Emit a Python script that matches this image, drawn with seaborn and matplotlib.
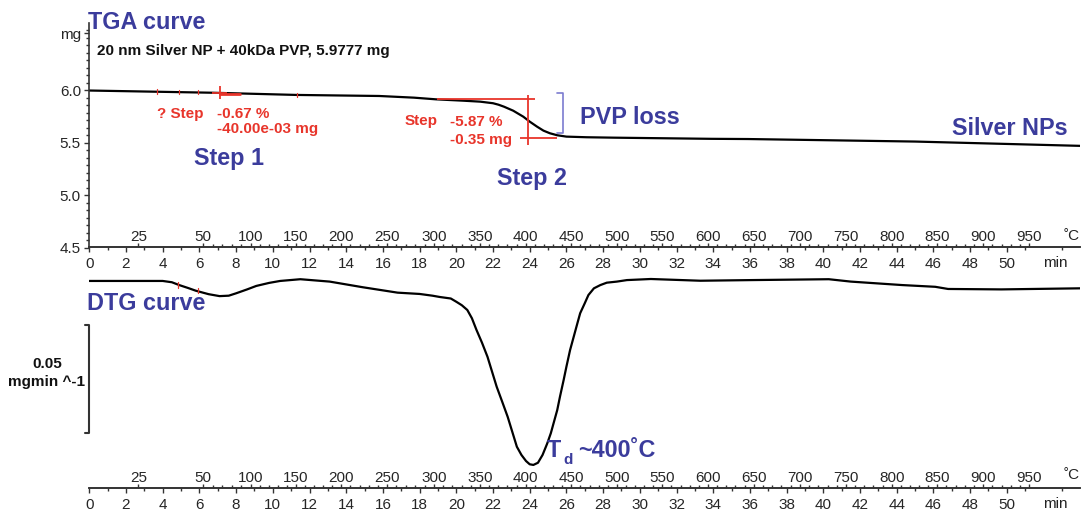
import numpy as np
import pandas as pd
import matplotlib
matplotlib.use("Agg")
import matplotlib.pyplot as plt
import seaborn as sns
from matplotlib.ticker import FixedLocator

# ---------------- data ----------------
tga_time = [0.0, 6.7, 11.3, 15.8, 17.7, 18.9, 20.4, 21.3, 22.0, 22.3, 22.6, 23.1, 23.65,
            24.0, 24.4, 24.75, 25.1, 25.5, 26.0, 27.1, 28.6, 33.9, 35.9, 45.0, 54.0]
tga_mass = [5.995, 5.974, 5.953, 5.943, 5.927, 5.911, 5.898, 5.889, 5.874, 5.860, 5.841, 5.803, 5.746,
            5.699, 5.651, 5.613, 5.588, 5.569, 5.556, 5.550, 5.546, 5.535, 5.533, 5.509, 5.468]

dtg_time = [0.0, 4.0, 4.5, 4.9, 5.4, 5.8, 6.5, 7.1, 7.6, 8.0, 8.6, 9.1, 9.8, 10.4, 11.5, 13.1,
            14.9, 16.8, 18.0, 18.7, 19.1, 19.7, 20.0, 20.3, 20.6, 20.85, 21.1, 21.4, 21.7, 21.95,
            22.2, 22.5, 22.8, 23.05, 23.3, 23.55, 23.8, 24.0, 24.2, 24.45, 24.7, 24.95, 25.15,
            25.3, 25.5, 25.65, 25.85, 26.0, 26.2, 26.4, 26.6, 26.75, 27.0, 27.2, 27.5, 27.85,
            28.2, 28.75, 29.3, 30.6, 33.3, 36.1, 40.3, 41.5, 44.3, 46.1, 46.8, 49.7, 54.0]
dtg_rate = [-0.0009, -0.0009, -0.0015, -0.0028, -0.0042, -0.0054, -0.0070, -0.0079, -0.0077, -0.0066,
            -0.0048, -0.0032, -0.0018, -0.0009, -0.0001, -0.0012,
            -0.0038, -0.0063, -0.0069, -0.0077, -0.0083, -0.0090, -0.0105, -0.0121, -0.0143, -0.0181,
            -0.0235, -0.0294, -0.0359, -0.0428,
            -0.0497, -0.0566, -0.0636, -0.0705, -0.0774, -0.0812, -0.0840, -0.0855, -0.0858, -0.0848,
            -0.0812, -0.0760, -0.0712,
            -0.0666, -0.0605, -0.0543, -0.0466, -0.0405, -0.0328, -0.0266, -0.0204, -0.0158, -0.0112,
            -0.0074, -0.0043, -0.0028,
            -0.0017, -0.0012, -0.0005, 0.0, -0.0008, -0.0005, -0.0001, -0.0012, -0.0028, -0.0036,
            -0.0046, -0.0048, -0.0043]

minute_ticks = list(range(0, 51, 2))
temp_labels = [25, 50, 100, 150, 200, 250, 300, 350, 400, 450,
               500, 550, 600, 650, 700, 750, 800, 850, 900, 950]
temp_pos_min = [2.67, 6.21, 8.80, 11.25, 13.73, 16.22, 18.78, 21.29, 23.79, 26.26,
                28.76, 31.22, 33.72, 36.21, 38.73, 41.23, 43.73, 46.20, 48.72, 51.20]
mass_ticks = [4.5, 5.0, 5.5, 6.0]

# step annotations
step1_time, step1_mass = 7.12, 5.974
step1_marks_t = [3.7, 4.9, 5.9, 11.3]
step1_marks_m = [5.985, 5.982, 5.979, 5.955]
step2_start, step2_time, step2_endt = 18.95, 23.91, 25.49
step2_onset, step2_end = 5.912, 5.547
bracket_t, bracket_top, bracket_bot = 25.83, 5.969, 5.594
dtg_marks_t = [4.83, 5.92]
dtg_marks_v = [-0.0028, -0.0054]
scale_top, scale_value = -0.0212, 0.05

tga_df = pd.DataFrame({"time": tga_time, "mass": tga_mass})
dtg_df = pd.DataFrame({"time": dtg_time, "rate": dtg_rate})

# ---------------- style ----------------
sns.set_style("ticks")
plt.rcParams["font.family"] = ["Liberation Sans", "DejaVu Sans"]
plt.rcParams["axes.linewidth"] = 1.2

W, H = 1086, 511
fig = plt.figure(figsize=(W / 100, H / 100), dpi=100)
NAVY = "#3b3c9c"
RED = "#e8352b"
AX = "#333333"

x0 = 89.3 / W
wx = 54 * 18.35 / W
ax_t = fig.add_axes([x0, 1 - 247.5 / H, wx, (247.5 - 23) / H])
ax_b = fig.add_axes([x0, 1 - 488 / H, wx, (488 - 270) / H])

sns.lineplot(data=tga_df, x="time", y="mass", ax=ax_t, color="black", lw=1.6,
             solid_joinstyle="round")
sns.lineplot(data=dtg_df, x="time", y="rate", ax=ax_b, color="black", lw=1.6,
             solid_joinstyle="round")

ax_t.set_ylim(4.5, 4.5 + 224.5 / 105)
ax_b.set_ylim(-(488 - 279) / 2167, (279 - 270) / 2167)


def style_x(ax):
    ax.set_xlim(0, 54)
    ax.set_xlabel("")
    ax.set_ylabel("")
    for s in ["top", "right"]:
        ax.spines[s].set_visible(False)
    ax.spines["bottom"].set_color(AX)
    ax.set_xticks(minute_ticks)
    ax.set_xticklabels([str(v) for v in minute_ticks])
    ax.xaxis.set_minor_locator(FixedLocator(np.arange(1, 54, 2)))
    ax.tick_params(axis="x", which="major", direction="out", length=3.5, width=1,
                   pad=3.5, labelsize=11, color=AX)
    ax.tick_params(axis="x", which="minor", direction="out", length=2.5, width=1, color=AX)
    sec = ax.secondary_xaxis(0.0)
    sec.set_alignment("top")
    sec.set_ticks(temp_pos_min, labels=[str(v) for v in temp_labels])
    minor_T = np.arange(60, 960, 10)
    sec.xaxis.set_minor_locator(FixedLocator(np.interp(minor_T, temp_labels[1:], temp_pos_min[1:])))
    sec.tick_params(axis="x", which="major", direction="out", length=3.0, width=1,
                    pad=-0.5, labelsize=11, color=AX)
    sec.tick_params(axis="x", which="minor", direction="out", length=2.5, width=1, color=AX)
    sec.spines["top"].set_color(AX)
    return sec


style_x(ax_t)
style_x(ax_b)

# y axis of TGA
ax_t.spines["left"].set_color(AX)
ax_t.set_yticks(mass_ticks + [6.541])
ax_t.set_yticklabels([f"{v:.1f}" for v in mass_ticks] + ["mg"])
ax_t.yaxis.set_minor_locator(FixedLocator(np.arange(4.5, 6.63, 0.5 / 7)))
ax_t.tick_params(axis="y", which="major", direction="out", length=3.5, width=1,
                 pad=2.5, labelsize=11, color=AX)
ax_t.tick_params(axis="y", which="minor", direction="out", length=2.5, width=1, color=AX)

# DTG: no left axis
ax_b.spines["left"].set_visible(False)
ax_b.set_yticks([])

# ---------- red step annotations ----------
rl = dict(color=RED, lw=1.3, solid_capstyle="butt")
ax_t.plot([step1_time - 0.41, step1_time + 0.41], [step1_mass, step1_mass], **rl)
ax_t.plot([step1_time, step1_time], [step1_mass - 0.062, step1_mass + 0.062], **rl)
ax_t.plot([step1_time, step1_time + 1.1], [step1_mass - 0.01, step1_mass - 0.01], color=RED, lw=2.0)
for t, m in zip(step1_marks_t, step1_marks_m):
    ax_t.plot([t, t], [m - 0.02, m + 0.02], color=RED, lw=0.9)
ax_t.plot([step2_start, step2_time + 0.38], [step2_onset, step2_onset], **rl)
ax_t.plot([step2_time, step2_time], [step2_onset + 0.04, step2_end - 0.07], **rl)
ax_t.plot([step2_time - 0.44, step2_endt], [step2_end, step2_end], **rl)
ax_t.plot([bracket_t - 0.36, bracket_t, bracket_t, bracket_t - 0.36],
          [bracket_top, bracket_top, bracket_bot, bracket_bot], color="#7b7bd0", lw=1.2)
for t, v in zip(dtg_marks_t, dtg_marks_v):
    ax_b.plot([t, t], [v - 0.0012, v + 0.0012], color=RED, lw=0.9)

# scale bar
ax_b.plot([-0.23, 0.0, 0.0, -0.23], [scale_top, scale_top, scale_top - scale_value, scale_top - scale_value],
          color=AX, lw=1.5, clip_on=False)


def ft(px, py, s, **kw):
    fig.text(px / W, 1 - py / H, s, va="baseline", **kw)


big = dict(fontsize=16.8, fontweight="bold", color=NAVY)
red = dict(fontsize=11, fontweight="bold", color=RED)
ft(88, 29, "TGA curve", **big)
ft(97, 55, "20 nm Silver NP + 40kDa PVP, 5.9777 mg", fontsize=11, fontweight="bold", color="#111111")
ft(157, 118, "? Step", **red)
ft(217, 118, "-0.67 %", **red)
ft(217, 133.5, "-40.00e-03 mg", **red)
ft(194, 165.5, "Step 1", **big)
ft(405, 125.5, "Step", **red)
ft(450, 125.5, "-5.87 %", **red)
ft(450, 144, "-0.35 mg", **red)
ft(580, 123.5, "PVP loss", **big)
ft(497, 185, "Step 2", **big)
ft(1068, 135, "Silver NPs", ha="right", **big)
ft(87, 310, "DTG curve", **big)
ft(547, 457, "T", **big)
ft(563, 463.5, "d", fontsize=11, fontweight="bold", color=NAVY)
ft(578, 457, "~400\u02daC", **big)
ft(47.5, 367.5, "0.05", ha="center", fontsize=11, fontweight="bold", color="#111111")
ft(46.5, 386, "mgmin ^-1", ha="center", fontsize=11, fontweight="bold", color="#111111")
# axis unit labels
for yb in (267, 507.5):
    ft(1055, yb, "min", ha="center", fontsize=11, color="#222222")
for yb in (239.5, 479):
    ft(1071.5, yb, "\u02daC", ha="center", fontsize=11, color="#222222")

fig.savefig("out.png", dpi=100)
